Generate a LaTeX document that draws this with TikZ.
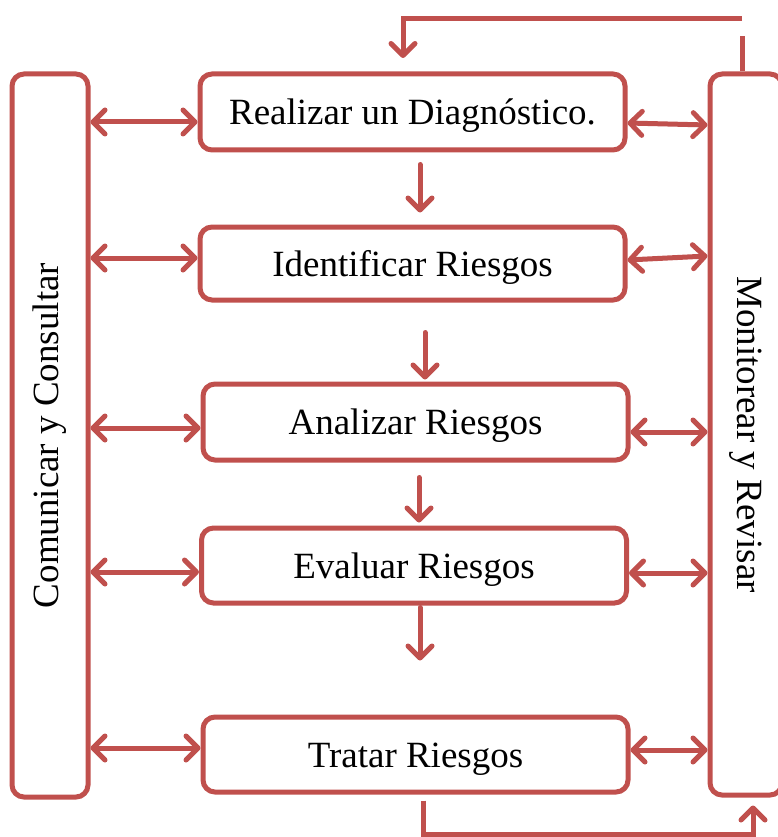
\documentclass[tikz,border=0pt]{standalone}
\usepackage{fontspec}
\setmainfont{Liberation Serif}
\usetikzlibrary{arrows.meta}
\definecolor{rojo}{RGB}{192,80,77}
\begin{document}
\begin{tikzpicture}[x=1pt, y=-1pt,
        caja/.style={draw=rojo, line width=5pt, rounded corners=12pt, inner sep=0pt, font=\fontsize{37}{44}\selectfont},
        paso/.style={caja, minimum width=425pt, text height=33pt, text depth=8pt},
        flecha/.style={draw=rojo, line width=5pt, line cap=round, -{Straight Barb[length=12pt, width=24pt, line cap=round, line join=round]}},
        doble/.style={flecha, {Straight Barb[length=12pt, width=24pt, line cap=round, line join=round]}-{Straight Barb[length=12pt, width=24pt, line cap=round, line join=round]}}]
        \clip (0,0) rectangle (778,837);
        \node[caja, minimum width=76pt, minimum height=723pt] (com) at (50,435.5) {\rotatebox{90}{Comunicar y Consultar}};
        \node[caja, minimum width=72pt, minimum height=721pt] (mon) at (746,434.5) {\rotatebox{-90}{Monitorear y Revisar}};
        \foreach \x/\y/\h/\n/\t in {412.5/112/76/1/Realizar un Diagnóstico., 412.5/263.5/73/2/Identificar Riesgos, 415.5/422/76/3/Analizar Riesgos, 414/565.5/75/4/Evaluar Riesgos, 415.5/754.5/75/5/Tratar Riesgos}{
        \node[paso, minimum height=\h pt] (b\n) at (\x,\y) {\t};
        }
        % flechas hacia los lados
        \foreach \n/\l/\a/\b in {1/122/123/125, 2/258/260/256, 3/428/432/432, 4/572/573/573, 5/748/750/750}{
        \draw[doble] (com.east |- 0,\l) -- (b\n.west |- 0,\l);
        \draw[doble] (b\n.east |- 0,\a) -- (mon.west |- 0,\b);
        }
        % flechas hacia abajo
        \draw[flecha] ([shift={(7.5,12)}]b1.south) -- ([shift={(7.5,-12)}]b2.north);
        \draw[flecha] ([shift={(12.5,30)}]b2.south) -- ([shift={(9.5,-2)}]b3.north);
        \draw[flecha] ([shift={(3.5,15)}]b3.south) -- ([shift={(5,-3)}]b4.north);
        \draw[flecha] ([shift={(6,2)}]b4.south) -- ++(0,53);
        % retorno
        \coordinate (r1) at (742,36);
        \coordinate (r2) at (742,19);
        \coordinate (r3) at (403,19);
        \draw[draw=rojo, line width=5pt] (mon.north -| r1) -- (r1);
        \draw[flecha, line cap=butt] (r2) -- (r3) -- ([yshift=-39pt]r3);
        \coordinate (s1) at (753,834);
        \draw[flecha, line cap=butt] ([shift={(7.5,6)}]b5.south) |- (s1) -- ([yshift=-8pt]mon.south -| s1);
\end{tikzpicture}
\end{document}
